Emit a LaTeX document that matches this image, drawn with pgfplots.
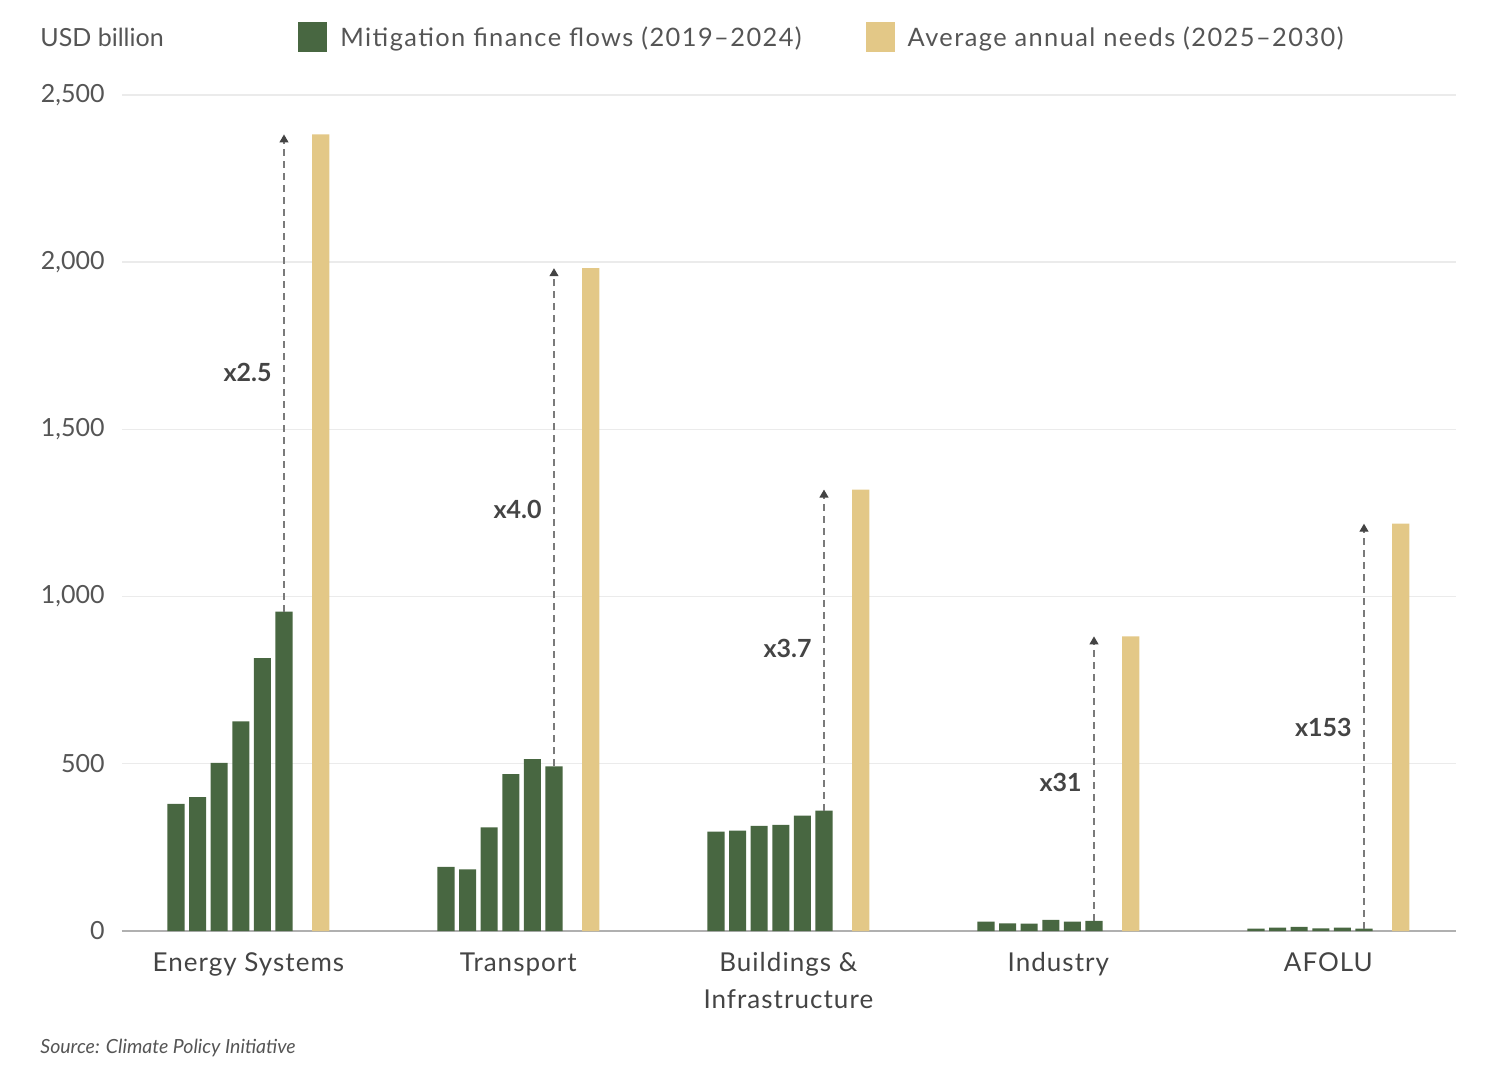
\documentclass[border=0pt]{standalone}
\usepackage{fontspec}
\setmainfont{Lato}
\newfontfamily\wideA[LetterSpace=5.6]{Lato}
\newfontfamily\wideB[LetterSpace=4.0]{Lato}
\usepackage{pgfplots}
\pgfplotsset{compat=1.18}
\usetikzlibrary{arrows.meta}
\definecolor{barG}{HTML}{486741}
\definecolor{barY}{HTML}{E3C887}
\definecolor{txt}{HTML}{555555}
\definecolor{txtD}{HTML}{444444}
\definecolor{gridc}{HTML}{EBEBEB}
\definecolor{axc}{HTML}{B0B0B0}
\definecolor{dashc}{HTML}{7A7A7A}
\begin{document}
\begin{tikzpicture}
\path[use as bounding box] (-61pt,-77.5pt) rectangle (683pt,465.5pt);
\begin{axis}[
  scale only axis, width=667pt, height=418pt,
  xmin=-2.5, xmax=59.26, ymin=0, ymax=2500,
  clip=false,
  axis x line*=bottom, axis y line*=left,
  y axis line style={draw=none},
  x axis line style={-, draw=axc, line width=1pt},
  major tick length=0pt,
  ytick={0,500,1000,1500,2000,2500},
  ymajorgrids, major grid style={draw=gridc, line width=0.7pt},
  /pgf/number format/assume math mode=true,
  /pgf/number format/1000 sep={,},
  yticklabel style={font=\fontsize{12.5}{15}\selectfont, text=txt, anchor=east, inner sep=0pt, xshift=-8.5pt},
  xtick={3.35,15.85,28.35,40.85,53.35},
  xticklabels={Energy Systems, Transport, {Buildings \&\\Infrastructure}, Industry, AFOLU},
  xticklabel style={font=\wideB\fontsize{13}{18.5}\selectfont, text=txtD, align=center, anchor=north, inner sep=0pt, yshift=-10.5pt},
  legend columns=2,
  legend style={draw=none, fill=none, at={(0.1319,1.0694)}, anchor=west, inner sep=0pt,
    font=\wideA\fontsize{12.7}{15}\selectfont, text=txt,
    nodes={inner sep=0pt},
    /tikz/every even column/.append style={column sep=32pt}},
  legend cell align=left,
  legend image code/.code={\fill[#1, draw=none] (0pt,-7pt) rectangle (14.5pt,8pt); \path (21pt,0pt);},
]
\addplot[ybar, bar width=0.79, bar shift=0pt, fill=barG, draw=none] coordinates {
  (0,380) (1,400) (2,503) (3,627) (4,816) (5,955)
  (12.5,192) (13.5,184) (14.5,310) (15.5,469) (16.5,514) (17.5,492)
  (25,297) (26,300) (27,314) (28,317) (29,345) (30,360)
  (37.5,28) (38.5,23) (39.5,22) (40.5,33) (41.5,28) (42.5,30)
  (50,7) (51,10) (52,12) (53,8) (54,10) (55,7)
};
\addlegendentry{Mitigation finance flows (2019–2024)}
\addplot[ybar, bar width=0.79, bar shift=0pt, fill=barY, draw=none] coordinates {
  (6.7,2382) (19.2,1982) (31.7,1320) (44.2,881) (56.7,1218)
};
\addlegendentry{Average annual needs (2025–2030)}
\addplot[forget plot, dashc, line width=0.6pt, dash pattern=on 3.5pt off 2.5pt, -{Triangle[width=4.5pt,length=4pt,color=txtD]}] coordinates {(5,955) (5,2382)};
\addplot[forget plot, dashc, line width=0.6pt, dash pattern=on 3.5pt off 2.5pt, -{Triangle[width=4.5pt,length=4pt,color=txtD]}] coordinates {(17.5,492) (17.5,1982)};
\addplot[forget plot, dashc, line width=0.6pt, dash pattern=on 3.5pt off 2.5pt, -{Triangle[width=4.5pt,length=4pt,color=txtD]}] coordinates {(30,360) (30,1320)};
\addplot[forget plot, dashc, line width=0.6pt, dash pattern=on 3.5pt off 2.5pt, -{Triangle[width=4.5pt,length=4pt,color=txtD]}] coordinates {(42.5,30) (42.5,881)};
\addplot[forget plot, dashc, line width=0.6pt, dash pattern=on 3.5pt off 2.5pt, -{Triangle[width=4.5pt,length=4pt,color=txtD]}] coordinates {(55,7) (55,1218)};
\begin{scope}[every node/.style={anchor=east, inner sep=0pt, xshift=-6pt, text=txtD, font=\bfseries\fontsize{12.5}{15}\selectfont}]
\node at (axis cs:5,1669) {x2.5};
\node at (axis cs:17.5,1260) {x4.0};
\node at (axis cs:30,846) {x3.7};
\node at (axis cs:42.5,443) {x31};
\node at (axis cs:55,610) {x153};
\end{scope}
\end{axis}
\node[anchor=base west, inner sep=0pt, text=txt, font=\fontsize{12.5}{15}\selectfont] at (-41pt,442pt) {USD billion};
\node[anchor=base west, inner sep=0pt, text=txt, font=\itshape\fontsize{9.75}{12}\selectfont] at (-41pt,-61pt) {Source: Climate Policy Initiative};
\end{tikzpicture}
\end{document}
